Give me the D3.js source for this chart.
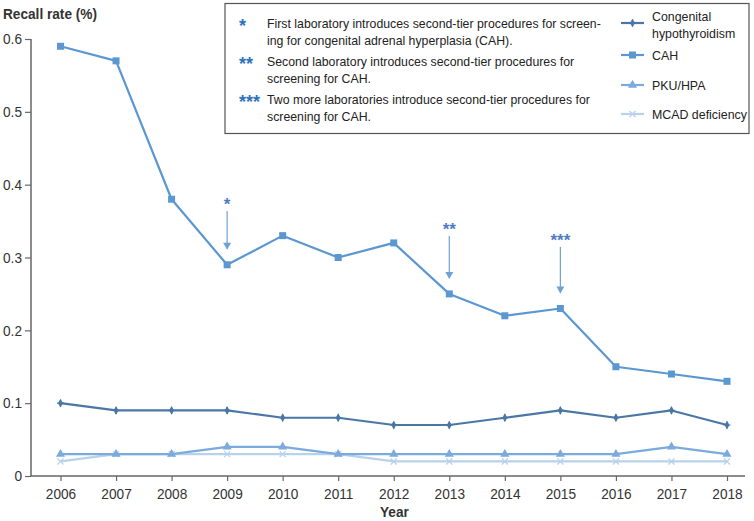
<!DOCTYPE html>
<html><head><meta charset="utf-8">
<script src="https://cdn.jsdelivr.net/npm/d3@7"></script>
<style>body{margin:0;background:#fff;font-family:"Liberation Sans",Arial,sans-serif}</style>
</head><body><svg id="c" width="754" height="521"></svg>
<script>
const years = [2006,2007,2008,2009,2010,2011,2012,2013,2014,2015,2016,2017,2018];
const congenitalHypothyroidism = [0.10,0.09,0.09,0.09,0.08,0.08,0.07,0.07,0.08,0.09,0.08,0.09,0.07];
const cah = [0.59,0.57,0.38,0.29,0.33,0.30,0.32,0.25,0.22,0.23,0.15,0.14,0.13];
const pkuHpa = [0.03,0.03,0.03,0.04,0.04,0.03,0.03,0.03,0.03,0.03,0.03,0.04,0.03];
const mcad = [0.02,0.03,0.03,0.03,0.03,0.03,0.02,0.02,0.02,0.02,0.02,0.02,0.02];
const yTicks = [0,0.1,0.2,0.3,0.4,0.5,0.6];
const annotations = [{year:2009,label:"*"},{year:2013,label:"**"},{year:2015,label:"***"}];
const notes = [
  {mark:"*", lines:["First laboratory introduces second-tier procedures for screen-","ing for congenital adrenal hyperplasia (CAH)."]},
  {mark:"**", lines:["Second laboratory introduces second-tier procedures for","screening for CAH."]},
  {mark:"***", lines:["Two more laboratories introduce second-tier procedures for","screening for CAH."]}
];
const series = [
  {name:["Congenital","hypothyroidism"], values:congenitalHypothyroidism, color:"#4a77a6", sym:"diamond"},
  {name:["CAH"], values:cah, color:"#5b97d0", sym:"square"},
  {name:["PKU/HPA"], values:pkuHpa, color:"#7aaade", sym:"triangle"},
  {name:["MCAD deficiency"], values:mcad, color:"#b9d2ec", sym:"cross"}
];

const SX = 0.91; // narrow text look
const svg = d3.select("#c");
const x = d3.scaleLinear().domain([2006,2018]).range([60.5,727]);
const y = d3.scaleLinear().domain([0,0.6]).range([476,39]);
const axisColor = "#666";

function txt(px, py, s, opts={}){
  const t = svg.append("text").attr("transform",`translate(${px},${py}) scale(${opts.sx||SX},1)`).text(s)
    .attr("font-size",opts.size||13.5).attr("fill",opts.fill||"#333");
  if(opts.bold) t.attr("font-weight","bold");
  if(opts.anchor) t.attr("text-anchor",opts.anchor);
  return t;
}

// axes
const gy = svg.append("g").attr("transform","translate(31,0)")
  .call(d3.axisLeft(y).tickValues(yTicks).tickSize(6).tickPadding(2).tickFormat(d=>d===0?"0":d3.format(".1f")(d)));
gy.select(".domain").attr("d",`M0,${y(0.6)}V${y(0)}`);
gy.selectAll(".tick text").attr("x",null).attr("transform",`translate(-9,0) scale(${SX},1)`);
const gx = svg.append("g").attr("transform","translate(0,476)")
  .call(d3.axisBottom(x).tickValues(years).tickSize(5).tickPadding(7).tickFormat(d3.format("d")));
gx.select(".domain").attr("d","M31,0H745");
gx.selectAll(".tick text").attr("transform",`scale(${SX},1)`);
svg.selectAll(".domain").attr("stroke",axisColor).attr("stroke-width",1.5);
svg.selectAll(".tick line").attr("stroke",axisColor).attr("stroke-width",1.2);
svg.selectAll(".tick text").attr("fill","#333").attr("font-size",15).attr("font-family","Liberation Sans, Arial, sans-serif");

txt(3,19,"Recall rate (%)",{size:15,bold:true});
txt(380,517,"Year",{size:15,bold:true});

function marker(g, sym, cx, cy, color){
  if(sym==="square") g.append("rect").attr("x",cx-3.5).attr("y",cy-3.5).attr("width",7).attr("height",7).attr("fill",color);
  else if(sym==="diamond") { g.append("path").attr("d",d3.symbol(d3.symbolDiamond,22)()).attr("transform",`translate(${cx},${cy})`).attr("fill",color);
    g.append("path").attr("d",`M${cx-3.5},${cy}H${cx+3.5}M${cx},${cy-3.5}V${cy+3.5}`).attr("stroke",color).attr("stroke-width",1.2); }
  else if(sym==="triangle") g.append("path").attr("d",d3.symbol(d3.symbolTriangle,36)()).attr("transform",`translate(${cx},${cy})`).attr("fill",color);
  else g.append("path").attr("d",`M${cx-3},${cy-3}L${cx+3},${cy+3}M${cx-3},${cy+3}L${cx+3},${cy-3}`).attr("stroke",color).attr("stroke-width",1.3);
}

const line = d3.line().x((d,i)=>x(years[i])).y(d=>y(d));
[...series].reverse().forEach(s=>{
  const g = svg.append("g");
  g.append("path").attr("d",line(s.values)).attr("fill","none").attr("stroke",s.color).attr("stroke-width",2.2).attr("stroke-linejoin","round");
  s.values.forEach((v,i)=>marker(g,s.sym,x(years[i]),y(v),s.color));
});

// annotations
annotations.forEach(a=>{
  const v = cah[years.indexOf(a.year)];
  const py = y(v);
  const yStar = a.year===2009?205:(a.year===2013?230:241);
  const yStart = yStar+6, yEnd = py-16;
  svg.append("text").attr("x",x(a.year)).attr("y",yStar+5).attr("text-anchor","middle")
    .attr("font-size",17).attr("font-weight","bold").attr("fill","#4f7cc2").text(a.label);
  svg.append("line").attr("x1",x(a.year)).attr("x2",x(a.year)).attr("y1",yStart).attr("y2",yEnd)
    .attr("stroke","#6fa0d6").attr("stroke-width",1.2);
  svg.append("path").attr("d",`M${x(a.year)-4},${yEnd-6}L${x(a.year)+4},${yEnd-6}L${x(a.year)},${yEnd+1}Z`).attr("fill","#6fa0d6");
});

// legend box
svg.append("rect").attr("x",225).attr("y",3.5).attr("width",524).attr("height",130)
  .attr("fill","#fff").attr("stroke","#555").attr("stroke-width",1.2);
const noteY = [28,66,104];
notes.forEach((n,i)=>{
  svg.append("text").attr("x",239).attr("y",noteY[i]+4).text(n.mark)
    .attr("font-size",18).attr("font-weight","bold").attr("fill","#2f73b8");
  n.lines.forEach((l,j)=>txt(267,noteY[i]+j*17,l,{size:13.6,fill:"#222",sx:0.905}));
});
const legY = [23,55,85,114];
series.forEach((s,i)=>{
  const ly = legY[i];
  const g = svg.append("g");
  g.append("line").attr("x1",621).attr("x2",644).attr("y1",ly).attr("y2",ly).attr("stroke",s.color).attr("stroke-width",2.2);
  marker(g,s.sym,632.5,ly,s.color);
  if(s.name.length===2){
    txt(652,ly-2,s.name[0],{size:13.6,fill:"#222"});
    txt(652,ly+15,s.name[1],{size:13.6,fill:"#222"});
  } else {
    txt(652,ly+5,s.name[0],{size:13.6,fill:"#222"});
  }
});
</script></body></html>
